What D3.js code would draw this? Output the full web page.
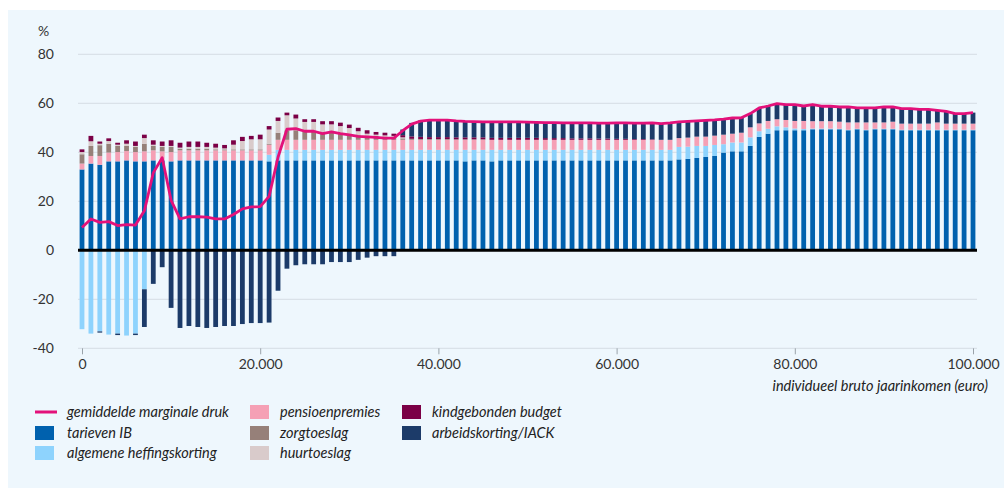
<!DOCTYPE html>
<html>
<head>
<meta charset="utf-8">
<script src="https://cdn.jsdelivr.net/npm/d3@7"></script>
<style>
body { margin: 0; background: #fff; }
svg { display: block; font-family: Lato, "Open Sans", sans-serif; }
</style>
</head>
<body>
<svg id="chart" width="1004" height="491"></svg>
<script>
// income steps, 0 .. 100.000 euro per 1.000
var incomes = d3.range(0, 100001, 1000);

// tarieven IB
var ib = [
  33.0, 35.4, 34.9, 36.3, 36.3, 36.7, 36.3, 36.3, 36.7, 36.7,
  36.3, 36.7, 36.7, 36.7, 36.7, 36.7, 36.7, 36.7, 36.7, 36.7,
  36.7, 36.3, 36.7, 36.7, 36.7, 36.7, 36.7, 36.7, 36.7, 36.7,
  36.7, 36.7, 36.7, 36.7, 36.7, 36.7, 36.7, 36.7, 36.7, 36.7,
  36.7, 36.7, 36.7, 36.3, 36.7, 36.7, 36.3, 36.7, 36.7, 36.7,
  36.7, 36.7, 36.7, 36.7, 36.7, 36.7, 36.7, 36.7, 36.7, 36.7,
  36.7, 36.7, 36.7, 36.7, 36.7, 36.7, 36.7, 37.1, 37.3, 37.7,
  38.1, 38.5, 39.9, 40.4, 40.4, 42.6, 46.3, 47.6, 49.0, 49.0,
  49.0, 49.0, 49.4, 49.4, 49.4, 49.4, 49.0, 49.4, 49.0, 49.4,
  49.4, 49.4, 49.0, 49.0, 49.0, 49.0, 49.0, 49.0, 49.0, 49.0,
  49.0
];

// algemene heffingskorting (negative = korting, positive = afbouw)
var ahk = [
  -32.2, -34.0, -33.1, -34.4, -34.0, -34.8, -34.0, -15.9, 0, 0,
  0, 0, 0, 0, 0, 0, 0, 0, 0, 0,
  0, 2.7, 4.3, 4.3, 4.3, 4.3, 4.3, 4.3, 4.3, 4.3,
  4.3, 4.3, 4.3, 4.3, 4.3, 4.3, 4.3, 4.3, 4.3, 4.3,
  4.3, 4.3, 4.3, 4.7, 4.3, 4.3, 4.7, 4.3, 4.3, 4.3,
  4.3, 4.3, 4.3, 4.3, 4.3, 4.3, 4.3, 4.3, 4.3, 4.3,
  4.3, 4.3, 4.3, 4.3, 4.3, 4.3, 4.3, 5.1, 5.0, 4.9,
  4.5, 4.5, 3.4, 3.6, 3.6, 3.5, 2.3, 2.0, 1.6, 1.2,
  0.7, 0.5, 0.3, 0.3, 0.3, 0.2, 0.2, 0.2, 0.2, 0.2,
  0.2, 0.2, 0.2, 0.2, 0.2, 0.2, 0.2, 0.2, 0.2, 0.2,
  0.2
];

// pensioenpremies
var pens = [
  2.4, 3.1, 3.6, 3.6, 3.8, 3.8, 3.8, 4.1, 4.1, 3.7,
  3.8, 4.1, 4.1, 4.1, 4.1, 4.1, 4.1, 4.1, 4.1, 4.1,
  4.1, 4.1, 4.1, 4.1, 4.1, 4.1, 4.1, 4.1, 4.1, 4.1,
  4.1, 4.1, 4.1, 4.1, 4.1, 4.1, 4.1, 4.1, 4.1, 4.1,
  4.1, 4.1, 4.1, 4.1, 4.1, 4.1, 4.1, 4.1, 4.1, 4.1,
  4.1, 4.1, 4.1, 4.1, 4.1, 4.1, 4.1, 4.1, 4.1, 4.1,
  4.1, 4.1, 4.1, 4.1, 4.1, 4.1, 4.1, 3.6, 3.7, 3.8,
  3.8, 3.8, 3.9, 3.6, 4.0, 4.1, 3.2, 3.2, 2.9, 3.0,
  3.1, 3.3, 3.0, 3.0, 3.0, 2.9, 3.0, 2.6, 3.0, 2.6,
  2.6, 2.9, 2.5, 2.5, 2.5, 2.5, 3.0, 2.5, 2.5, 2.5,
  2.5
];

// zorgtoeslag
var zorg = [
  3.8, 4.1, 4.4, 3.6, 2.5, 2.1, 2.1, 3.1, 1.8, 1.8,
  2.1, 0.7, 0.7, 0.7, 0.7, 0.4, 0.4, 0.4, 0.4, 0.4,
  0.4, 0.4, 2.9, 3.9, 3.9, 3.2, 3.2, 2.9, 2.9, 2.5,
  2.2, 1.9, 1.6, 1.6, 1.3, 1.2, 0.6, 0.4, 0.3, 0.3,
  0.3, 0.3, 0.2, 0.2, 0.2, 0.2, 0, 0, 0, 0,
  0, 0, 0, 0, 0, 0, 0, 0, 0, 0,
  0, 0, 0, 0, 0, 0, 0, 0, 0, 0,
  0, 0, 0, 0, 0, 0, 0, 0, 0, 0,
  0, 0, 0, 0, 0, 0, 0, 0, 0, 0,
  0, 0, 0, 0, 0, 0, 0, 0, 0, 0,
  0
];

// huurtoeslag
var huur = [
  0.9, 1.9, 0.6, 1.1, 0.5, 0.9, 0.4, 2.3, 0.5, 0.4,
  0.4, 0.4, 0.7, 0.7, 0.7, 0.7, 0.4, 1.9, 3.4, 4.1,
  4.1, 5.8, 4.8, 6.1, 4.8, 4.1, 4.1, 3.4, 3.4, 3.1,
  2.6, 1.6, 0.9, 0.5, 0.5, 0.4, 0.4, 0, 0, 0,
  0, 0, 0, 0, 0, 0, 0, 0, 0, 0,
  0, 0, 0, 0, 0, 0, 0, 0, 0, 0,
  0, 0, 0, 0, 0, 0, 0, 0, 0, 0,
  0, 0, 0, 0, 0, 0, 0, 0, 0, 0,
  0, 0, 0, 0, 0, 0, 0, 0, 0, 0,
  0, 0, 0, 0, 0, 0, 0, 0, 0, 0,
  0
];

// kindgebonden budget
var kgb = [
  1.1, 2.2, 0.9, 1.1, 0.8, 1.4, 1.8, 1.4, 1.8, 1.8,
  2.3, 2.0, 2.2, 2.2, 1.7, 1.6, 1.4, 1.8, 1.7, 1.4,
  1.9, 1.4, 1.4, 1.1, 1.6, 1.1, 1.1, 1.3, 1.3, 1.4,
  1.4, 1.4, 1.4, 1.1, 1.1, 0.9, 0.9, 1.0, 0.9, 0.8,
  0.8, 0.8, 0.8, 0.8, 0.8, 0.8, 0.8, 0.8, 0.8, 0.8,
  0.8, 0.8, 0.7, 0.7, 0.7, 0.6, 0.6, 0.6, 0.5, 0.5,
  0.4, 0.4, 0.3, 0.3, 0.2, 0, 0, 0, 0, 0,
  0, 0, 0, 0, 0, 0, 0, 0, 0, 0,
  0, 0, 0, 0, 0, 0, 0, 0, 0, 0,
  0, 0, 0, 0, 0, 0, 0, 0, 0, 0,
  0
];

// arbeidskorting/IACK
var ak = [
  0, 0, -0.5, 0, -0.6, 0, -0.6, -15.4, -13.7, -6.9,
  -23.5, -31.7, -30.9, -31.3, -31.7, -31.3, -30.9, -30.9, -30.1, -29.7,
  -29.7, -29.5, -16.5, -7.5, -6.1, -5.7, -5.7, -5.7, -4.8, -4.8,
  -4.8, -3.9, -3.0, -2.4, -2.4, -2.4, 2.3, 5.5, 6.7, 6.9,
  6.9, 6.9, 6.7, 6.5, 6.4, 6.3, 6.5, 6.5, 6.5, 6.5,
  6.4, 6.3, 6.3, 6.3, 6.2, 6.3, 6.3, 6.3, 6.3, 6.3,
  6.5, 6.5, 6.5, 6.5, 6.7, 6.6, 6.9, 6.6, 6.6, 6.4,
  6.6, 6.4, 6.3, 6.4, 6.1, 5.6, 6.3, 6.1, 6.4, 6.3,
  6.7, 6.1, 6.8, 6.1, 6.1, 6.0, 6.3, 5.9, 5.9, 5.9,
  6.3, 6.0, 6.1, 6.1, 5.8, 5.8, 4.9, 5.0, 4.1, 4.1,
  4.5
];

// gemiddelde marginale druk
var druk = [
  9.3, 12.8, 11.4, 11.7, 10.1, 10.5, 10.3, 16.1, 31.6, 37.8,
  20.4, 12.8, 13.7, 13.7, 13.5, 12.8, 12.8, 14.6, 16.9, 17.7,
  17.8, 22.0, 38.0, 49.4, 49.7, 48.6, 48.6, 47.6, 48.3, 47.6,
  47.1, 46.5, 46.3, 46.1, 45.8, 45.8, 48.8, 51.5, 52.7, 53.1,
  53.1, 53.1, 52.8, 52.6, 52.5, 52.4, 52.4, 52.4, 52.4, 52.4,
  52.3, 52.2, 52.1, 52.1, 52.0, 52.0, 52.0, 52.0, 51.9, 51.9,
  52.0, 52.0, 51.9, 51.9, 52.0, 51.7, 52.0, 52.4, 52.6, 52.8,
  53.0, 53.2, 53.5, 54.0, 54.1, 55.8, 58.1, 58.9, 59.9, 59.5,
  59.5, 58.9, 59.5, 58.8, 58.8, 58.5, 58.5, 58.1, 58.1, 58.1,
  58.5, 58.5, 57.8, 57.8, 57.5, 57.5, 57.1, 56.7, 55.8, 55.8,
  56.2
];

var yTicks = [-40, -20, 0, 20, 40, 60, 80];
var xTicks = [0, 20000, 40000, 60000, 80000, 100000];
var xTickLabels = ["0", "20.000", "40.000", "60.000", "80.000", "100.000"];

var keys = ["ib", "ahk", "pens", "zorg", "huur", "kgb", "ak"];
var colors = {
  ib: "#0061ae", ahk: "#8ed3fd", pens: "#f5a0b5", zorg: "#968079",
  huur: "#d9cbcb", kgb: "#7b0046", ak: "#1c3b69", druk: "#e3117a"
};

var legendItems = [
  { key: "druk", label: "gemiddelde marginale druk", col: 0, row: 0 },
  { key: "ib", label: "tarieven IB", col: 0, row: 1 },
  { key: "ahk", label: "algemene heffingskorting", col: 0, row: 2 },
  { key: "pens", label: "pensioenpremies", col: 1, row: 0 },
  { key: "zorg", label: "zorgtoeslag", col: 1, row: 1 },
  { key: "huur", label: "huurtoeslag", col: 1, row: 2 },
  { key: "kgb", label: "kindgebonden budget", col: 2, row: 0 },
  { key: "ak", label: "arbeidskorting/IACK", col: 2, row: 1 }
];

var rows = incomes.map(function(d, i) {
  return { inc: d, ib: ib[i], ahk: ahk[i], pens: pens[i], zorg: zorg[i],
           huur: huur[i], kgb: kgb[i], ak: ak[i], druk: druk[i] };
});

var svg = d3.select("#chart");

// panel
svg.append("rect")
  .attr("x", 8).attr("y", 10)
  .attr("width", 996).attr("height", 478)
  .attr("fill", "#eef7fd");

var x = d3.scaleLinear().domain([0, 100000]).range([82, 973]);
var y = d3.scaleLinear().domain([-40, 80]).range([348.3, 54.3]);

// gridlines
svg.append("g").selectAll("line")
  .data(yTicks.filter(function(d) { return d != 0; }))
  .enter().append("line")
  .attr("x1", 78).attr("x2", 977)
  .attr("y1", function(d) { return y(d); })
  .attr("y2", function(d) { return y(d); })
  .attr("stroke", "#d5dde4").attr("stroke-width", 1);

// y labels
svg.append("g").selectAll("text")
  .data(yTicks)
  .enter().append("text")
  .attr("x", 54)
  .attr("y", function(d) { return y(d); })
  .attr("dy", "0.35em")
  .attr("text-anchor", "end")
  .attr("font-size", 14)
  .attr("fill", "#333")
  .text(function(d) { return d; });

svg.append("text")
  .attr("x", 38).attr("y", 31).attr("dy", "0.35em")
  .attr("font-size", 14).attr("fill", "#333")
  .text("%");

// x axis
var xAxis = svg.append("g")
  .attr("transform", "translate(0," + y(-40) + ")")
  .call(d3.axisBottom(x)
    .tickValues(xTicks)
    .tickFormat(function(d, i) { return xTickLabels[i]; })
    .tickSize(6)
    .tickPadding(5));
xAxis.select(".domain").remove();
xAxis.selectAll(".tick line").attr("stroke", "#9aa3aa");
xAxis.selectAll(".tick text")
  .attr("font-size", 14)
  .attr("font-family", "Lato, 'Open Sans', sans-serif")
  .attr("fill", "#333");

svg.append("text")
  .attr("x", 988).attr("y", 391)
  .attr("text-anchor", "end")
  .attr("font-size", 14.5)
  .attr("font-style", "italic")
  .attr("fill", "#222")
  .text("individueel bruto jaarinkomen (euro)");

// stacked bars
var series = d3.stack()
  .keys(keys)
  .offset(d3.stackOffsetDiverging)(rows);

var barW = 4.8;

svg.append("g").selectAll("g")
  .data(series)
  .enter().append("g")
  .attr("fill", function(s) { return colors[s.key]; })
  .selectAll("rect")
  .data(function(s) { return s.filter(function(d) { return d[1] != d[0]; }); })
  .enter().append("rect")
  .attr("x", function(d) { return x(d.data.inc) - barW / 2; })
  .attr("width", barW)
  .attr("y", function(d) { return y(Math.max(d[0], d[1])); })
  .attr("height", function(d) { return Math.abs(y(d[0]) - y(d[1])); });

// zero line
svg.append("line")
  .attr("x1", 78).attr("x2", 977)
  .attr("y1", y(0)).attr("y2", y(0))
  .attr("stroke", "#000").attr("stroke-width", 3);

// marginale druk line
var line = d3.line()
  .x(function(d) { return x(d.inc); })
  .y(function(d) { return y(d.druk); });

svg.append("path")
  .datum(rows)
  .attr("d", line)
  .attr("fill", "none")
  .attr("stroke", colors.druk)
  .attr("stroke-width", 2.8)
  .attr("stroke-linejoin", "round");

// legend
var colX = [35, 250, 402];
var rowY = [412, 433, 453];

var leg = svg.append("g").selectAll("g")
  .data(legendItems)
  .enter().append("g")
  .attr("transform", function(d) { return "translate(" + colX[d.col] + "," + rowY[d.row] + ")"; });

leg.each(function(d) {
  var g = d3.select(this);
  if (d.key == "druk") {
    g.append("line")
      .attr("x1", 0).attr("x2", 22)
      .attr("y1", 0).attr("y2", 0)
      .attr("stroke", colors.druk).attr("stroke-width", 3);
  } else {
    g.append("rect")
      .attr("x", 0).attr("y", -7)
      .attr("width", 19).attr("height", 14)
      .attr("fill", colors[d.key]);
  }
});

leg.append("text")
  .attr("x", function(d) { return d.col == 0 ? 32 : 30; })
  .attr("dy", "0.35em")
  .attr("font-size", 14.5)
  .attr("font-style", "italic")
  .attr("fill", "#222")
  .text(function(d) { return d.label; });
</script>
</body>
</html>
